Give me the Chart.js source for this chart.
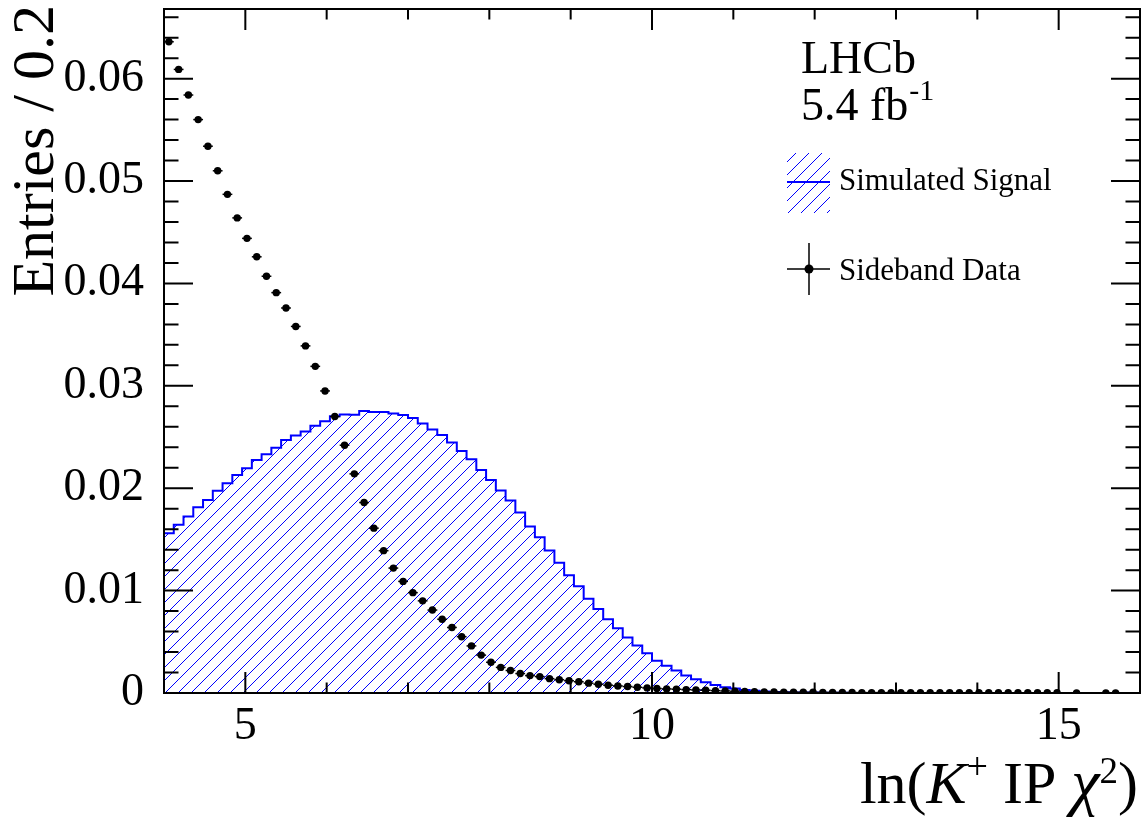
<!DOCTYPE html>
<html>
<head>
<meta charset="utf-8">
<script src="https://cdn.jsdelivr.net/npm/chart.js@4.4.1/dist/chart.umd.min.js"></script>
<style>
  html, body { margin: 0; padding: 0; background: #fff; }
</style>
</head>
<body>
<canvas id="myChart" width="1146" height="821"></canvas>
<script>
// axis ranges / binning
const xMin = 4, xMax = 16, binWidth = 0.12
const yMin = 0, yMax = 0.0668
const xTickLabels = [5, 10, 15]
const yTickLabels = [0, 0.01, 0.02, 0.03, 0.04, 0.05, 0.06]

// sideband data, one value per 0.12 bin starting at 4 (null = empty bin)
const sidebandData = [
  0.0636, 0.0609, 0.0584, 0.0560, 0.0534, 0.0510, 0.0487, 0.0464, 0.0444, 0.0426,
  0.0407, 0.0391, 0.0376, 0.0358, 0.0339, 0.0319, 0.0295, 0.0270, 0.0242, 0.0214,
  0.0186, 0.0161, 0.0139, 0.0122, 0.0109, 0.0098, 0.0090, 0.0081, 0.0072, 0.0064,
  0.0055, 0.0046, 0.0037, 0.0030, 0.0025, 0.0022, 0.0019, 0.0017, 0.0016, 0.0014,
  0.0013, 0.0012, 0.0011, 0.00096, 0.00086, 0.00076, 0.00069, 0.00063, 0.00056, 0.00050,
  0.00044, 0.00040, 0.00037, 0.00033, 0.00030, 0.00027, 0.00023, 0.00020, 0.00017, 0.00014,
  0.00012, 0.00011, 0.00010, 0.00009, 0.00008, 0.00007, 0.00007, 0.00006, 0.00006, 0.00005,
  0.00005, 0.00004, 0.00004, 0.00004, 0.00004, 0.00004, 0.00004, 0.00003, 0.00003, 0.00003,
  0.00003, 0.00003, 0.00003, 0.00002, 0.00002, 0.00002, 0.00002, 0.00002, 0.00002, 0.00002,
  0.00002, 0.00002, null, 0.00001, null, null, 0.00001, 0.00001, null, null
]

// simulated signal histogram, same binning
const signalSim = [
  0.01561, 0.01642, 0.01723, 0.01814, 0.01886, 0.01974, 0.02049, 0.02130, 0.02195, 0.02276,
  0.02332, 0.02396, 0.02472, 0.02514, 0.02553, 0.02611, 0.02655, 0.02703, 0.02721, 0.02718,
  0.02755, 0.02745, 0.02745, 0.02729, 0.02714, 0.02685, 0.02631, 0.02574, 0.02520, 0.02447,
  0.02364, 0.02283, 0.02179, 0.02081, 0.01977, 0.01879, 0.01762, 0.01625, 0.01521, 0.01391,
  0.01273, 0.01150, 0.01043, 0.00921, 0.00821, 0.00721, 0.00633, 0.00541, 0.00463, 0.00389,
  0.00316, 0.00265, 0.00219, 0.00170, 0.00135, 0.00105, 0.00079, 0.00057, 0.00043, 0.00030,
  0.00021, 0.00014, 0.00010, 0.00008, 0.00006, 0.00005, 0.00004, 0.00003, 0.00002, 0.00002,
  0.00001, 0.00001, 0.00001, 0.00001, 0.00001, 0.00001, 0.00001, 0.00001, 0.00001, 0.00001,
  0, 0, 0, 0, 0, 0, 0, 0, 0, 0,
  0, 0, 0, 0, 0, 0, 0, 0, 0, 0
]

const serif = '"Liberation Serif", "Times New Roman", serif'
const blue = '#0000ff'

var ctx = document.getElementById('myChart').getContext('2d')

// diagonal hatch like ROOT fill style 3004, drawn pixel by pixel so it stays crisp
function makeHatch() {
  const s = 13
  const c = document.createElement('canvas')
  c.width = s
  c.height = s
  const g = c.getContext('2d')
  g.fillStyle = blue
  for (let i = 0; i < s; i++) g.fillRect(i, s - 1 - i, 1, 1)
  return ctx.createPattern(c, 'repeat')
}
const hatch = makeHatch()

// points at bin centres, steps from bin low edges
const sidebandPoints = []
sidebandData.forEach((v, i) => {
  if (v !== null) sidebandPoints.push({ x: xMin + binWidth * (i + 0.5), y: v })
})
const signalPoints = signalSim.map((v, i) => ({ x: xMin + binWidth * i, y: v }))
signalPoints.push({ x: xMax, y: signalSim[signalSim.length - 1] })

// horizontal error bars (bin width) for the data points
const errorBars = {
  id: 'errorBars',
  afterDatasetsDraw(chart) {
    const xs = chart.scales.x, ys = chart.scales.y
    const c = chart.ctx
    c.save()
    c.strokeStyle = '#000'
    c.lineWidth = 1.5
    sidebandPoints.forEach(p => {
      const y = ys.getPixelForValue(p.y)
      c.beginPath()
      c.moveTo(xs.getPixelForValue(p.x - binWidth / 2), y)
      c.lineTo(xs.getPixelForValue(p.x + binWidth / 2), y)
      c.stroke()
    })
    c.restore()
  }
}

// frame with ticks on all four sides
const frame = {
  id: 'frame',
  afterDatasetsDraw(chart) {
    const a = chart.chartArea
    const xs = chart.scales.x, ys = chart.scales.y
    const c = chart.ctx
    c.save()
    c.strokeStyle = '#000'
    c.lineWidth = 2
    c.strokeRect(a.left, a.top, a.right - a.left, a.bottom - a.top)
    c.beginPath()
    for (let v = 4; v <= 16.001; v += 1) {
      const px = xs.getPixelForValue(v)
      const len = Math.abs(v % 5) < 1e-6 ? 21 : 10.5
      c.moveTo(px, a.bottom); c.lineTo(px, a.bottom - len)
      c.moveTo(px, a.top); c.lineTo(px, a.top + len)
    }
    for (let k = 0; k <= 33; k++) {
      const v = k * 0.002
      const py = ys.getPixelForValue(v)
      const len = k % 5 === 0 ? 29 : 14.5
      c.moveTo(a.left, py); c.lineTo(a.left + len, py)
      c.moveTo(a.right, py); c.lineTo(a.right - len, py)
    }
    c.stroke()
    c.restore()
  }
}

// titles, LHCb label and legend
const labels = {
  id: 'labels',
  afterDraw(chart) {
    const c = chart.ctx
    c.save()
    c.fillStyle = '#000'
    c.textBaseline = 'alphabetic'

    // y title
    c.save()
    c.translate(53, 5)
    c.rotate(-Math.PI / 2)
    c.textAlign = 'right'
    c.font = '60px ' + serif
    c.fillText('Entries / 0.2', 0, 0)
    c.restore()

    // x title, right aligned
    const parts = [
      { t: 'ln(', f: '60px ' + serif, dy: 0 },
      { t: 'K', f: 'italic 60px ' + serif, dy: 0 },
      { t: '+', f: '38px ' + serif, dy: -24 },
      { t: ' IP ', f: '60px ' + serif, dy: 0 },
      { t: '\u03c7', f: 'italic 64px ' + serif, dy: 0 },
      { t: '2', f: '37px ' + serif, dy: -20 },
      { t: ')', f: '60px ' + serif, dy: 0 }
    ]
    let total = 0
    parts.forEach(p => { c.font = p.f; p.w = c.measureText(p.t).width; total += p.w })
    let x = 1138 - total
    c.textAlign = 'left'
    parts.forEach(p => {
      c.font = p.f
      c.fillText(p.t, x, 803 + p.dy)
      x += p.w
    })

    // LHCb label
    c.font = '46px ' + serif
    c.fillText('LHCb', 801, 73)
    c.fillText('5.4 fb', 801, 120)
    const w = c.measureText('5.4 fb').width
    c.font = '30px ' + serif
    c.fillText('-1', 801 + w + 1, 100)

    // legend: simulated signal
    c.fillStyle = hatch
    c.fillRect(787, 153, 43, 60)
    c.strokeStyle = blue
    c.lineWidth = 2
    c.beginPath()
    c.moveTo(787, 182); c.lineTo(830, 182)
    c.stroke()
    c.fillStyle = '#000'
    c.font = '31px ' + serif
    c.fillText('Simulated Signal', 839, 190)

    // legend: sideband data
    c.strokeStyle = '#000'
    c.lineWidth = 1.5
    c.beginPath()
    c.moveTo(787, 269); c.lineTo(830, 269)
    c.moveTo(809, 243); c.lineTo(809, 295)
    c.stroke()
    c.beginPath()
    c.arc(809, 269, 4.5, 0, Math.PI * 2)
    c.fill()
    c.fillText('Sideband Data', 839, 280)
    c.restore()
  }
}

var myChart = new Chart(ctx, {
  type: 'scatter',
  data: {
    datasets: [{
      label: 'Sideband Data',
      type: 'scatter',
      data: sidebandPoints,
      pointRadius: 3.7,
      pointBackgroundColor: '#000',
      pointBorderColor: '#000',
      pointBorderWidth: 0,
      showLine: false
    }, {
      label: 'Simulated Signal',
      type: 'line',
      data: signalPoints,
      stepped: 'before',
      borderColor: blue,
      borderWidth: 2,
      backgroundColor: hatch,
      fill: 'origin',
      pointRadius: 0,
      tension: 0
    }]
  },
  options: {
    responsive: false,
    animation: false,
    devicePixelRatio: 1,
    layout: { padding: { top: 9, right: 6, left: 0, bottom: 0 } },
    plugins: {
      legend: { display: false },
      tooltip: { enabled: false }
    },
    scales: {
      x: {
        type: 'linear',
        min: xMin,
        max: xMax,
        grid: { display: false },
        border: { display: false },
        afterBuildTicks: s => { s.ticks = xTickLabels.map(v => ({ value: v })) },
        afterFit: s => { s.height = 128; s.paddingLeft = 0; s.paddingRight = 0 },
        ticks: {
          color: '#000',
          padding: -2,
          maxRotation: 0,
          font: { family: serif, size: 46 },
          callback: v => String(v)
        }
      },
      y: {
        type: 'linear',
        min: yMin,
        max: yMax,
        grid: { display: false },
        border: { display: false },
        afterBuildTicks: s => { s.ticks = yTickLabels.map(v => ({ value: v })) },
        afterFit: s => { s.width = 164; s.paddingTop = 0; s.paddingBottom = 0 },
        ticks: {
          color: '#000',
          padding: 12,
          font: { family: serif, size: 46 },
          callback: v => v === 0 ? '0' : v.toFixed(2)
        }
      }
    }
  },
  plugins: [errorBars, frame, labels]
})
</script>
</body>
</html>
